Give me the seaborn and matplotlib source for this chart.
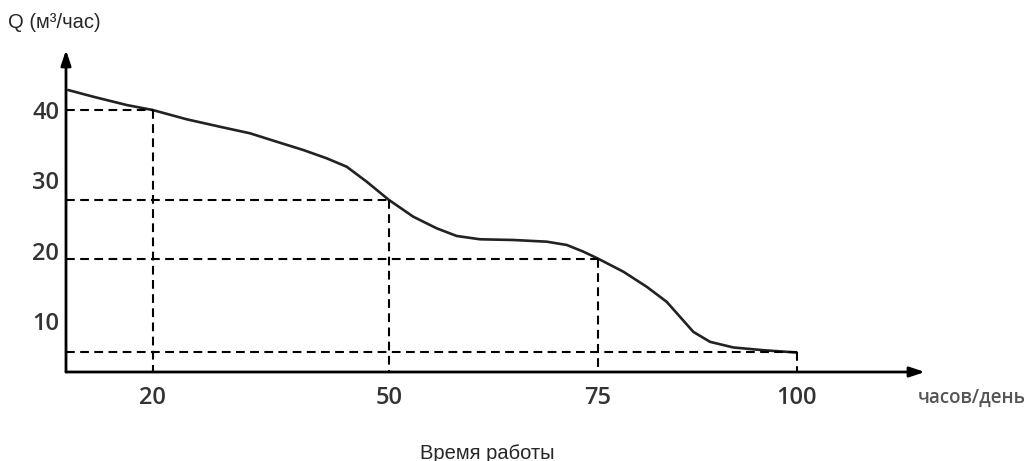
import numpy as np
import pandas as pd
import matplotlib
matplotlib.use("Agg")
import matplotlib.pyplot as plt
import seaborn as sns

# Кривая Q(t), точки
hours = [9.28, 12.46, 16.70, 20.0, 24.32, 28.54, 32.35, 35.74, 39.12, 42.09,
         44.63, 47.17, 50.0, 52.91, 55.71, 58.11, 60.90, 64.89, 68.89, 71.29,
         73.28, 75.0, 78.22, 81.16, 83.67, 85.34, 87.01, 89.11, 92.04, 95.81,
         100.0]
flow = [42.84, 41.89, 40.71, 40.0, 38.68, 37.62, 36.69, 35.49, 34.31, 33.13,
        31.93, 29.80, 27.2, 24.82, 23.17, 22.08, 21.61, 21.51, 21.27, 20.80,
        19.85, 18.88, 17.0, 14.85, 12.71, 10.58, 8.44, 7.02, 6.22, 5.83,
        5.5]

# Опорные точки (пунктир)
ref_x = [20, 50, 75, 100]
ref_y = [40, 27.2, 18.85, 5.62]

x_ticks = [20, 50, 75, 100]
y_ticks = [10, 20, 30, 40]

# шкала по оси X на рисунке неравномерная: узлы (значение -> пиксель)
scale_x = [0, 20, 50, 75, 100, 140]
scale_px = [-4.8, 152.7, 389.0, 597.7, 796.7, 1115.1]


def fwd(v):
    return np.interp(v, scale_x, scale_px)


def inv(p):
    return np.interp(p, scale_px, scale_x)


sns.set_style("white")
plt.rcParams['font.family'] = ['Open Sans', 'DejaVu Sans']

fig = plt.figure(figsize=(10.27, 4.61), dpi=100)
ax = fig.add_axes([66 / 1027, 1 - 372 / 461, (935 - 66) / 1027, (372 - 45) / 461])
ax.set_xscale('function', functions=(fwd, inv))

x0, y0 = 8.99, 2.73
ax.set_xlim(x0, 117.37)
ax.set_ylim(y0, 49.25)

df = pd.DataFrame({'x': hours, 'y': flow})
sns.lineplot(data=df, x='x', y='y', ax=ax, color='#222222', linewidth=1.9, sort=False)

dash = (0, (4.2, 2.6))
for rx, ry in zip(ref_x, ref_y):
    ax.plot([x0, rx], [ry, ry], color='black', lw=1.5, linestyle=dash)
    ax.plot([rx, rx], [ry, y0], color='black', lw=1.5, linestyle=dash)

# Оси со стрелками
for s in ax.spines.values():
    s.set_visible(False)
arrow = dict(arrowstyle='-|>,head_length=0.9,head_width=0.3',
             color='black', lw=2.0, shrinkA=0, shrinkB=0)
ax.annotate('', xy=(116.1, y0), xytext=(x0, y0), arrowprops=arrow,
            annotation_clip=False)
ax.annotate('', xy=(x0, 48.53), xytext=(x0, y0), arrowprops=arrow,
            annotation_clip=False)

ax.set_xticks(x_ticks)
ax.set_xticklabels([str(t) for t in x_ticks])
ax.set_yticks(y_ticks)
ax.set_yticklabels([str(t) for t in y_ticks])
ax.minorticks_off()
ax.tick_params(axis='both', which='both', length=0, labelsize=17, labelcolor='#333333')
ax.tick_params(axis='x', pad=10)
ax.tick_params(axis='y', pad=5)
for lab in ax.get_xticklabels() + ax.get_yticklabels():
    lab.set_fontweight('semibold')
ax.set_xlabel('')
ax.set_ylabel('')
ax.grid(False)

fig.text(8 / 1027, 1 - 22 / 461, 'Q (м³/час)', fontsize=14.5,
         family=['Liberation Sans', 'DejaVu Sans'], va='center', ha='left')
fig.text(487 / 1027, 1 - 453 / 461, 'Время работы', fontsize=14.5,
         family=['Liberation Sans', 'DejaVu Sans'], va='center', ha='center')
fig.text(918 / 1027, 1 - 398 / 461, 'часов/день', fontsize=13.5,
         color='#555555', fontweight='semibold', va='center', ha='left')

fig.savefig('out.png', dpi=100)
